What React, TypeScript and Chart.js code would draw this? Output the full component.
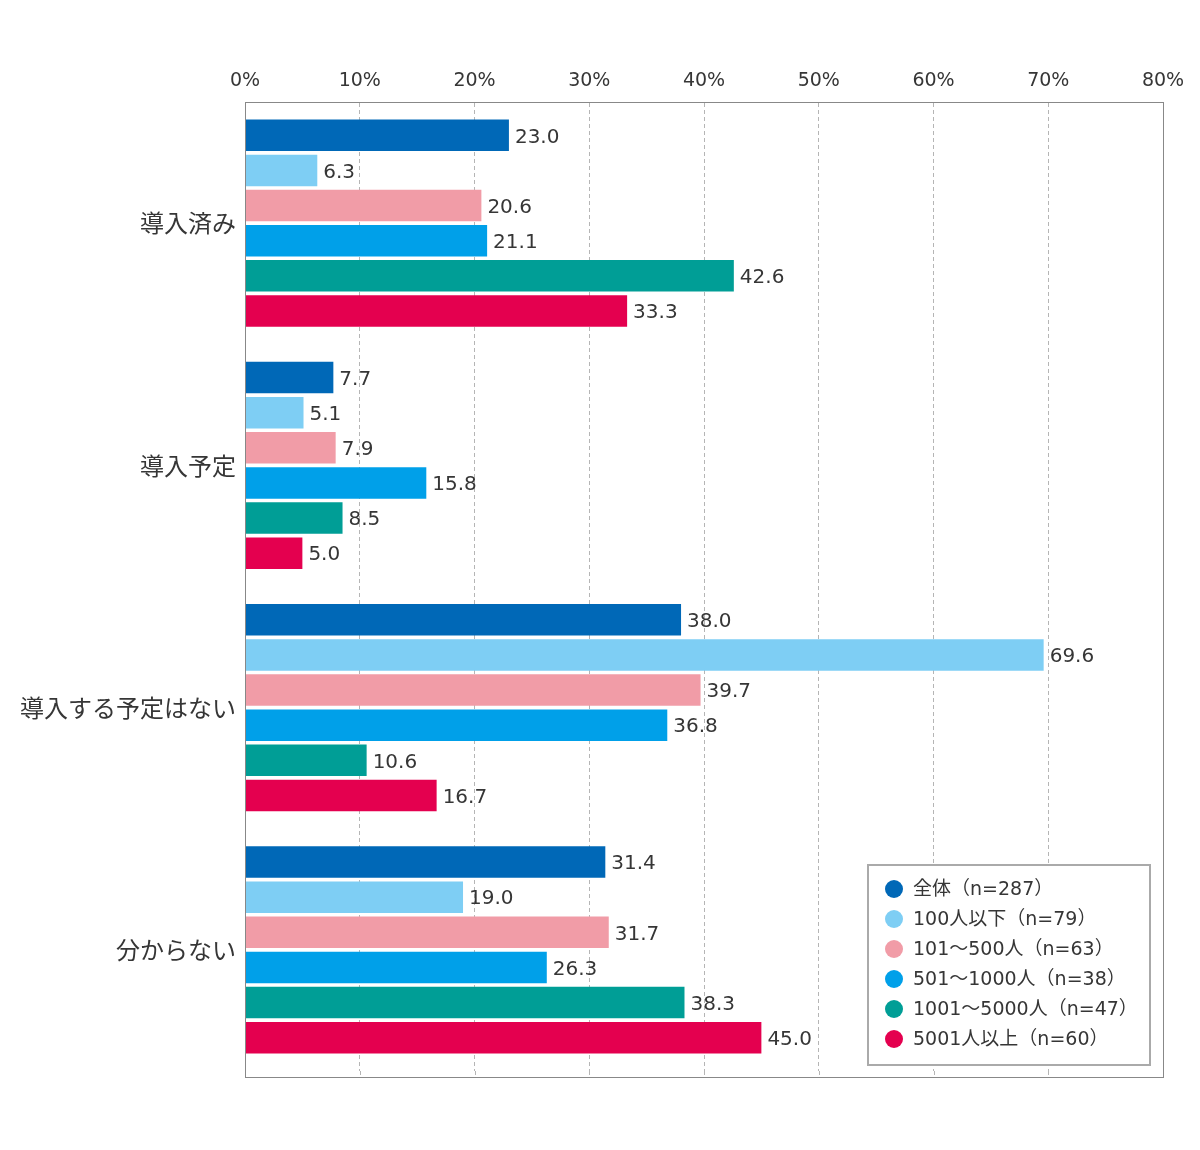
import { Chart, registerables } from "chart.js";
import React, { useEffect, useRef } from "react";

Chart.register(...registerables);

const categories = ["導入済み", "導入予定", "導入する予定はない", "分からない"];

const seriesNames = [
  "全体（n=287）",
  "100人以下（n=79）",
  "101～500人（n=63）",
  "501～1000人（n=38）",
  "1001～5000人（n=47）",
  "5001人以上（n=60）",
];

const seriesColors = ["#0068b7", "#7ecef4", "#f19ca7", "#00a0e9", "#009e96", "#e4004f"];

// values per series, in category order
const zentai = [23.0, 7.7, 38.0, 31.4];
const under100 = [6.3, 5.1, 69.6, 19.0];
const from101 = [20.6, 7.9, 39.7, 31.7];
const from501 = [21.1, 15.8, 36.8, 26.3];
const from1001 = [42.6, 8.5, 10.6, 38.3];
const over5001 = [33.3, 5.0, 16.7, 45.0];

const xTicks = [0, 10, 20, 30, 40, 50, 60, 70, 80];

const FONT = "'DejaVu Sans', 'Noto Sans CJK JP', sans-serif";
const CJK_FONT = "'Noto Sans CJK JP', sans-serif";
const TEXT = "#363636";
const GRID = "#b5b5b5";
const FRAME_EXTRA = 7; // frame runs a little below the last band

const valueLabels = {
  id: "valueLabels",
  afterDatasetsDraw(chart: Chart) {
    const ctx = chart.ctx;
    ctx.save();
    ctx.font = `20px ${FONT}`;
    ctx.fillStyle = TEXT;
    ctx.textAlign = "left";
    ctx.textBaseline = "middle";
    chart.data.datasets.forEach((ds, i) => {
      const meta = chart.getDatasetMeta(i);
      meta.data.forEach((bar: any, j) => {
        const v = ds.data[j] as number;
        ctx.fillText(v.toFixed(1), bar.x + 6, bar.y + 2);
      });
    });
    ctx.restore();
  },
};

const frameAndLegend = {
  id: "frameAndLegend",
  afterDraw(chart: Chart) {
    const { ctx, chartArea } = chart;
    const xScale: any = chart.scales.x;
    const bottom = chartArea.bottom + FRAME_EXTRA;
    ctx.save();

    // carry the dashed grid lines down to the frame bottom
    ctx.strokeStyle = GRID;
    ctx.lineWidth = 1;
    ctx.setLineDash([4, 3]);
    xTicks.slice(1, -1).forEach((t) => {
      const px = Math.round(xScale.getPixelForValue(t)) + 0.5;
      ctx.beginPath();
      ctx.moveTo(px, chartArea.bottom);
      ctx.lineTo(px, bottom);
      ctx.stroke();
    });

    ctx.setLineDash([]);
    ctx.strokeStyle = "#888888";
    ctx.strokeRect(chartArea.left + 0.5, chartArea.top + 0.5, chartArea.width, bottom - chartArea.top - 1);

    // legend box inside plot, bottom right
    const w = 282;
    const h = 200;
    const bx = chartArea.right - 13 - w;
    const by = bottom - 13 - h;
    ctx.fillStyle = "#ffffff";
    ctx.fillRect(bx, by, w, h);
    ctx.strokeStyle = "#aaaaaa";
    ctx.lineWidth = 2;
    ctx.strokeRect(bx, by, w, h);

    ctx.font = `19px ${FONT}`;
    ctx.textAlign = "left";
    ctx.textBaseline = "middle";
    seriesNames.forEach((name, i) => {
      const cy = by + 24 + i * 30;
      ctx.beginPath();
      ctx.fillStyle = seriesColors[i];
      ctx.arc(bx + 26, cy, 9, 0, Math.PI * 2);
      ctx.fill();
      ctx.fillStyle = TEXT;
      ctx.fillText(name, bx + 45, cy + 1);
    });
    ctx.restore();
  },
};

const App: React.FC = () => {
  const canvasRef = useRef<HTMLCanvasElement | null>(null);

  useEffect(() => {
    if (!canvasRef.current) return;
    const values = [zentai, under100, from101, from501, from1001, over5001];

    const chart = new Chart(canvasRef.current, {
      type: "bar",
      data: {
        labels: categories,
        datasets: values.map((data, i) => ({
          label: seriesNames[i],
          data,
          backgroundColor: seriesColors[i],
          borderWidth: 0,
          categoryPercentage: 0.87,
          barPercentage: 0.9,
        })),
      },
      options: {
        indexAxis: "y",
        animation: false,
        responsive: false,
        maintainAspectRatio: false,
        layout: { padding: { top: 40, right: 29, bottom: 64 + FRAME_EXTRA, left: 0 } },
        plugins: {
          legend: { display: false },
          tooltip: { enabled: false },
        },
        scales: {
          x: {
            position: "top",
            min: 0,
            max: 80,
            afterBuildTicks: (scale: any) => {
              scale.ticks = xTicks.map((v) => ({ value: v }));
            },
            afterFit: (scale: any) => {
              scale.height = 54;
              scale.paddingLeft = 0;
              scale.paddingRight = 0;
            },
            ticks: {
              callback: (v: any) => `${v}%`,
              color: TEXT,
              font: { family: FONT, size: 19 },
              padding: 10,
              maxRotation: 0,
            },
            grid: {
              color: (c: any) =>
                c.index === 0 || c.index === xTicks.length - 1 ? "rgba(0,0,0,0)" : GRID,
              drawTicks: false,
              lineWidth: 1,
            },
            border: { display: true, color: "#888888", dash: [4, 3] },
          },
          y: {
            afterFit: (scale: any) => {
              scale.width = 237;
            },
            ticks: {
              color: TEXT,
              font: { family: CJK_FONT, size: 24 },
              padding: 9,
            },
            grid: { display: false, drawTicks: false },
            border: { display: true, color: "#888888" },
          },
        },
      },
      plugins: [valueLabels, frameAndLegend],
    });

    return () => {
      chart.destroy();
    };
  }, []);

  return (
    <div style={{ width: 1184, height: 1134, background: "#ffffff" }}>
      <canvas ref={canvasRef} width={1184} height={1134} style={{ width: 1184, height: 1134 }} />
    </div>
  );
};

export default App;
